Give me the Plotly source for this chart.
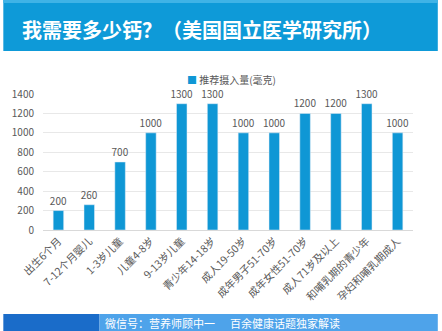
import plotly.graph_objects as go

categories = ["出生6个月", "7-12个月婴儿", "1-3岁儿童", "儿童4-8岁", "9-13岁儿童", "青少年14-18岁",
              "成人19-50岁", "成年男子51-70岁", "成年女性51-70岁", "成人71岁及以上",
              "和哺乳期的青少年", "孕妇和哺乳期成人"]
values = [200, 260, 700, 1000, 1300, 1300, 1000, 1000, 1200, 1200, 1300, 1000]
series_name = "推荐摄入量(毫克)"
y_ticks = [0, 200, 400, 600, 800, 1000, 1200, 1400]
bar_color = "#0F97D5"

W, H = 442, 331
L, R, T, B = 40, 413, 94, 230

def px(x):
    return (x - L) / (R - L)

def py(y):
    return (B - y) / (B - T)

fig = go.Figure()
fig.add_trace(go.Bar(
    x=categories, y=values, name=series_name,
    marker=dict(color=bar_color),
    text=[str(v) for v in values], textposition="outside",
    textfont=dict(size=10, color="#595959"),
    constraintext="none",
    cliponaxis=False,
    showlegend=False,
))

shapes = [
    dict(type="rect", xref="paper", yref="paper", x0=px(0), x1=px(438), y0=py(51), y1=py(0),
         fillcolor="#0E9AD8", line=dict(width=0)),
    dict(type="rect", xref="paper", yref="paper", x0=px(0), x1=px(438), y0=py(3), y1=py(0),
         fillcolor="#3FB3E6", line=dict(width=0)),
    dict(type="rect", xref="paper", yref="paper", x0=px(0), x1=px(97), y0=py(331), y1=py(314),
         fillcolor="#1A6CC9", line=dict(width=0)),
    dict(type="rect", xref="paper", yref="paper", x0=px(97), x1=px(438), y0=py(331), y1=py(314),
         fillcolor="#4EA3EA", line=dict(width=0)),
]

annotations = [
    dict(text="<b>我需要多少钙？（美国国立医学研究所）</b>", xref="paper", yref="paper",
         x=px(17), y=py(30), xanchor="left", yanchor="middle", showarrow=False,
         font=dict(size=20, color="white", family="Noto Sans CJK SC")),
    dict(text="微信号：营养师顾中一", xref="paper", yref="paper",
         x=px(100), y=py(323), xanchor="left", yanchor="middle", showarrow=False,
         font=dict(size=11, color="white", family="Noto Sans CJK SC")),
    dict(text="百余健康话题独家解读", xref="paper", yref="paper",
         x=px(227), y=py(323), xanchor="left", yanchor="middle", showarrow=False,
         font=dict(size=11, color="white", family="Noto Sans CJK SC")),
    dict(text=f"<span style='color:{bar_color}'>■</span> {series_name}", xref="paper", yref="paper",
         x=px(183), y=py(80), xanchor="left", yanchor="middle", showarrow=False,
         font=dict(size=10, color="#595959", family="Noto Sans CJK SC")),
]

fig.update_layout(
    width=W, height=H,
    margin=dict(l=L, r=W - R, t=T, b=H - B, pad=0),
    paper_bgcolor="white", plot_bgcolor="white",
    font=dict(family="Noto Sans CJK SC", color="#595959", size=10),
    bargap=0.66,
    showlegend=False,
    shapes=shapes,
    annotations=annotations,
    xaxis=dict(tickangle=-45, tickfont=dict(size=10.5, color="#595959"), showline=True,
               linecolor="#D9D9D9", linewidth=1, ticks=""),
    yaxis=dict(range=[0, 1400], tickvals=y_ticks, showgrid=True, gridcolor="#E8E8E8",
               zeroline=False, tickfont=dict(size=10, color="#595959"), ticks="",
               ticklabelstandoff=8),
)

fig.write_html("out.html")
